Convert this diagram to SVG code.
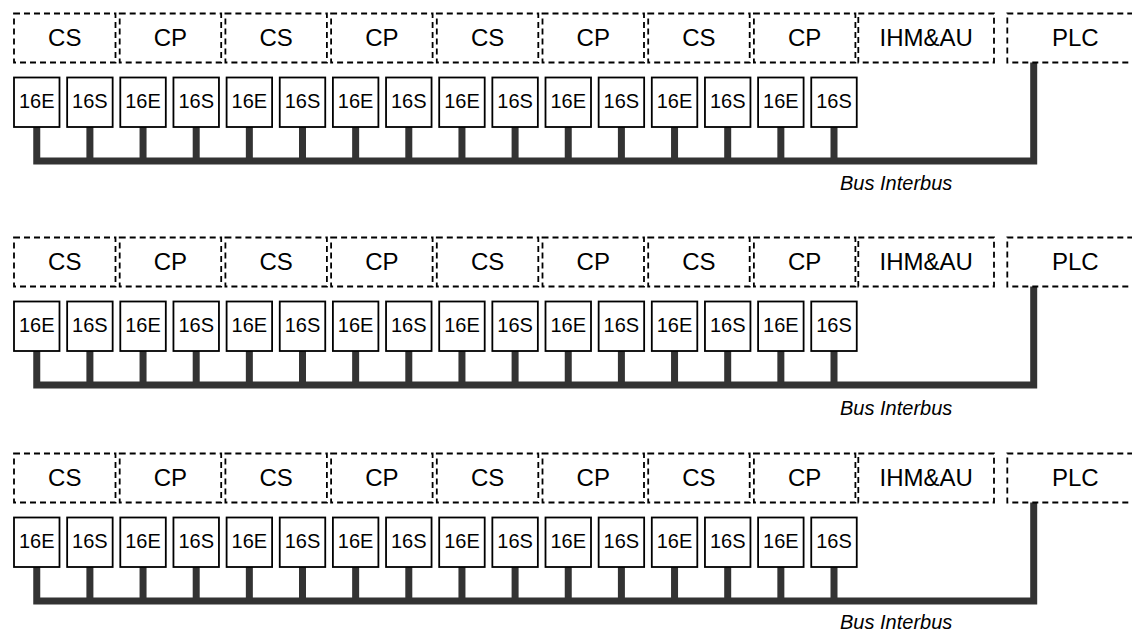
<svg xmlns="http://www.w3.org/2000/svg" width="1132" height="631" viewBox="0 0 1132 631">
<style>
.d{fill:none;stroke:#000;stroke-width:1.8;stroke-dasharray:6 4}
.b{fill:#fff;stroke:#000;stroke-width:1.8}
.t1{font-family:"Liberation Sans",Arial,sans-serif;font-size:24px;text-anchor:middle;fill:#000}
.t2{font-family:"Liberation Sans",Arial,sans-serif;font-size:20px;text-anchor:middle;fill:#000}
.lb{font-family:"Liberation Sans",Arial,sans-serif;font-size:20px;font-style:italic;fill:#000}
.bus{fill:none;stroke:#333;stroke-width:7;stroke-linejoin:miter;stroke-linecap:butt}
</style>
<rect width="1132" height="631" fill="#fff"/>

<!-- ROW 1 -->
<g id="row1">
<g id="r1-connectors">
<path class="bus" d="M36.75,127 V161 H1033.7 V62.5"/>
<path class="bus" d="M89.9,127V161M143.05,127V161M196.2,127V161M249.35,127V161M302.5,127V161M355.65,127V161M408.8,127V161M461.95,127V161M515.1,127V161M568.25,127V161M621.4,127V161M674.55,127V161M727.7,127V161M780.85,127V161M834,127V161"/>
</g>
<g id="r1-cs1"><rect class="d" x="14" y="13.5" width="101.5" height="49"/><text class="t1" x="64.75" y="46">CS</text></g>
<g id="r1-cp1"><rect class="d" x="119.7" y="13.5" width="101.5" height="49"/><text class="t1" x="170.45" y="46">CP</text></g>
<g id="r1-cs2"><rect class="d" x="225.4" y="13.5" width="101.5" height="49"/><text class="t1" x="276.15" y="46">CS</text></g>
<g id="r1-cp2"><rect class="d" x="331.1" y="13.5" width="101.5" height="49"/><text class="t1" x="381.85" y="46">CP</text></g>
<g id="r1-cs3"><rect class="d" x="436.8" y="13.5" width="101.5" height="49"/><text class="t1" x="487.55" y="46">CS</text></g>
<g id="r1-cp3"><rect class="d" x="542.5" y="13.5" width="101.5" height="49"/><text class="t1" x="593.25" y="46">CP</text></g>
<g id="r1-cs4"><rect class="d" x="648.2" y="13.5" width="101.5" height="49"/><text class="t1" x="698.95" y="46">CS</text></g>
<g id="r1-cp4"><rect class="d" x="753.9" y="13.5" width="101.5" height="49"/><text class="t1" x="804.65" y="46">CP</text></g>
<g id="r1-ihm"><rect class="d" x="858.3" y="13.5" width="135.7" height="49"/><text class="t1" x="926.15" y="46">IHM&amp;AU</text></g>
<g id="r1-plc"><rect class="d" x="1007.3" y="13.5" width="136" height="49"/><text class="t1" x="1075.3" y="46">PLC</text></g>
<g id="r1-m1"><rect class="b" x="14" y="77.5" width="45.5" height="49.5"/><text class="t2" x="36.75" y="107.5">16E</text></g>
<g id="r1-m2"><rect class="b" x="67.15" y="77.5" width="45.5" height="49.5"/><text class="t2" x="89.9" y="107.5">16S</text></g>
<g id="r1-m3"><rect class="b" x="120.3" y="77.5" width="45.5" height="49.5"/><text class="t2" x="143.05" y="107.5">16E</text></g>
<g id="r1-m4"><rect class="b" x="173.45" y="77.5" width="45.5" height="49.5"/><text class="t2" x="196.2" y="107.5">16S</text></g>
<g id="r1-m5"><rect class="b" x="226.6" y="77.5" width="45.5" height="49.5"/><text class="t2" x="249.35" y="107.5">16E</text></g>
<g id="r1-m6"><rect class="b" x="279.75" y="77.5" width="45.5" height="49.5"/><text class="t2" x="302.5" y="107.5">16S</text></g>
<g id="r1-m7"><rect class="b" x="332.9" y="77.5" width="45.5" height="49.5"/><text class="t2" x="355.65" y="107.5">16E</text></g>
<g id="r1-m8"><rect class="b" x="386.05" y="77.5" width="45.5" height="49.5"/><text class="t2" x="408.8" y="107.5">16S</text></g>
<g id="r1-m9"><rect class="b" x="439.2" y="77.5" width="45.5" height="49.5"/><text class="t2" x="461.95" y="107.5">16E</text></g>
<g id="r1-m10"><rect class="b" x="492.35" y="77.5" width="45.5" height="49.5"/><text class="t2" x="515.1" y="107.5">16S</text></g>
<g id="r1-m11"><rect class="b" x="545.5" y="77.5" width="45.5" height="49.5"/><text class="t2" x="568.25" y="107.5">16E</text></g>
<g id="r1-m12"><rect class="b" x="598.65" y="77.5" width="45.5" height="49.5"/><text class="t2" x="621.4" y="107.5">16S</text></g>
<g id="r1-m13"><rect class="b" x="651.8" y="77.5" width="45.5" height="49.5"/><text class="t2" x="674.55" y="107.5">16E</text></g>
<g id="r1-m14"><rect class="b" x="704.95" y="77.5" width="45.5" height="49.5"/><text class="t2" x="727.7" y="107.5">16S</text></g>
<g id="r1-m15"><rect class="b" x="758.1" y="77.5" width="45.5" height="49.5"/><text class="t2" x="780.85" y="107.5">16E</text></g>
<g id="r1-m16"><rect class="b" x="811.25" y="77.5" width="45.5" height="49.5"/><text class="t2" x="834" y="107.5">16S</text></g>
<g id="r1-label"><text class="lb" x="840" y="190">Bus Interbus</text></g>
</g>

<!-- ROW 2 -->
<g id="row2" transform="translate(0,224)">
<g id="r2-connectors">
<path class="bus" d="M36.75,127 V161 H1033.7 V62.5"/>
<path class="bus" d="M89.9,127V161M143.05,127V161M196.2,127V161M249.35,127V161M302.5,127V161M355.65,127V161M408.8,127V161M461.95,127V161M515.1,127V161M568.25,127V161M621.4,127V161M674.55,127V161M727.7,127V161M780.85,127V161M834,127V161"/>
</g>
<g id="r2-cs1"><rect class="d" x="14" y="13.5" width="101.5" height="49"/><text class="t1" x="64.75" y="46">CS</text></g>
<g id="r2-cp1"><rect class="d" x="119.7" y="13.5" width="101.5" height="49"/><text class="t1" x="170.45" y="46">CP</text></g>
<g id="r2-cs2"><rect class="d" x="225.4" y="13.5" width="101.5" height="49"/><text class="t1" x="276.15" y="46">CS</text></g>
<g id="r2-cp2"><rect class="d" x="331.1" y="13.5" width="101.5" height="49"/><text class="t1" x="381.85" y="46">CP</text></g>
<g id="r2-cs3"><rect class="d" x="436.8" y="13.5" width="101.5" height="49"/><text class="t1" x="487.55" y="46">CS</text></g>
<g id="r2-cp3"><rect class="d" x="542.5" y="13.5" width="101.5" height="49"/><text class="t1" x="593.25" y="46">CP</text></g>
<g id="r2-cs4"><rect class="d" x="648.2" y="13.5" width="101.5" height="49"/><text class="t1" x="698.95" y="46">CS</text></g>
<g id="r2-cp4"><rect class="d" x="753.9" y="13.5" width="101.5" height="49"/><text class="t1" x="804.65" y="46">CP</text></g>
<g id="r2-ihm"><rect class="d" x="858.3" y="13.5" width="135.7" height="49"/><text class="t1" x="926.15" y="46">IHM&amp;AU</text></g>
<g id="r2-plc"><rect class="d" x="1007.3" y="13.5" width="136" height="49"/><text class="t1" x="1075.3" y="46">PLC</text></g>
<g id="r2-m1"><rect class="b" x="14" y="77.5" width="45.5" height="49.5"/><text class="t2" x="36.75" y="107.5">16E</text></g>
<g id="r2-m2"><rect class="b" x="67.15" y="77.5" width="45.5" height="49.5"/><text class="t2" x="89.9" y="107.5">16S</text></g>
<g id="r2-m3"><rect class="b" x="120.3" y="77.5" width="45.5" height="49.5"/><text class="t2" x="143.05" y="107.5">16E</text></g>
<g id="r2-m4"><rect class="b" x="173.45" y="77.5" width="45.5" height="49.5"/><text class="t2" x="196.2" y="107.5">16S</text></g>
<g id="r2-m5"><rect class="b" x="226.6" y="77.5" width="45.5" height="49.5"/><text class="t2" x="249.35" y="107.5">16E</text></g>
<g id="r2-m6"><rect class="b" x="279.75" y="77.5" width="45.5" height="49.5"/><text class="t2" x="302.5" y="107.5">16S</text></g>
<g id="r2-m7"><rect class="b" x="332.9" y="77.5" width="45.5" height="49.5"/><text class="t2" x="355.65" y="107.5">16E</text></g>
<g id="r2-m8"><rect class="b" x="386.05" y="77.5" width="45.5" height="49.5"/><text class="t2" x="408.8" y="107.5">16S</text></g>
<g id="r2-m9"><rect class="b" x="439.2" y="77.5" width="45.5" height="49.5"/><text class="t2" x="461.95" y="107.5">16E</text></g>
<g id="r2-m10"><rect class="b" x="492.35" y="77.5" width="45.5" height="49.5"/><text class="t2" x="515.1" y="107.5">16S</text></g>
<g id="r2-m11"><rect class="b" x="545.5" y="77.5" width="45.5" height="49.5"/><text class="t2" x="568.25" y="107.5">16E</text></g>
<g id="r2-m12"><rect class="b" x="598.65" y="77.5" width="45.5" height="49.5"/><text class="t2" x="621.4" y="107.5">16S</text></g>
<g id="r2-m13"><rect class="b" x="651.8" y="77.5" width="45.5" height="49.5"/><text class="t2" x="674.55" y="107.5">16E</text></g>
<g id="r2-m14"><rect class="b" x="704.95" y="77.5" width="45.5" height="49.5"/><text class="t2" x="727.7" y="107.5">16S</text></g>
<g id="r2-m15"><rect class="b" x="758.1" y="77.5" width="45.5" height="49.5"/><text class="t2" x="780.85" y="107.5">16E</text></g>
<g id="r2-m16"><rect class="b" x="811.25" y="77.5" width="45.5" height="49.5"/><text class="t2" x="834" y="107.5">16S</text></g>
<g id="r2-label"><text class="lb" x="840" y="191">Bus Interbus</text></g>
</g>

<!-- ROW 3 -->
<g id="row3" transform="translate(0,440)">
<g id="r3-connectors">
<path class="bus" d="M36.75,127 V161 H1033.7 V62.5"/>
<path class="bus" d="M89.9,127V161M143.05,127V161M196.2,127V161M249.35,127V161M302.5,127V161M355.65,127V161M408.8,127V161M461.95,127V161M515.1,127V161M568.25,127V161M621.4,127V161M674.55,127V161M727.7,127V161M780.85,127V161M834,127V161"/>
</g>
<g id="r3-cs1"><rect class="d" x="14" y="13.5" width="101.5" height="49"/><text class="t1" x="64.75" y="46">CS</text></g>
<g id="r3-cp1"><rect class="d" x="119.7" y="13.5" width="101.5" height="49"/><text class="t1" x="170.45" y="46">CP</text></g>
<g id="r3-cs2"><rect class="d" x="225.4" y="13.5" width="101.5" height="49"/><text class="t1" x="276.15" y="46">CS</text></g>
<g id="r3-cp2"><rect class="d" x="331.1" y="13.5" width="101.5" height="49"/><text class="t1" x="381.85" y="46">CP</text></g>
<g id="r3-cs3"><rect class="d" x="436.8" y="13.5" width="101.5" height="49"/><text class="t1" x="487.55" y="46">CS</text></g>
<g id="r3-cp3"><rect class="d" x="542.5" y="13.5" width="101.5" height="49"/><text class="t1" x="593.25" y="46">CP</text></g>
<g id="r3-cs4"><rect class="d" x="648.2" y="13.5" width="101.5" height="49"/><text class="t1" x="698.95" y="46">CS</text></g>
<g id="r3-cp4"><rect class="d" x="753.9" y="13.5" width="101.5" height="49"/><text class="t1" x="804.65" y="46">CP</text></g>
<g id="r3-ihm"><rect class="d" x="858.3" y="13.5" width="135.7" height="49"/><text class="t1" x="926.15" y="46">IHM&amp;AU</text></g>
<g id="r3-plc"><rect class="d" x="1007.3" y="13.5" width="136" height="49"/><text class="t1" x="1075.3" y="46">PLC</text></g>
<g id="r3-m1"><rect class="b" x="14" y="77.5" width="45.5" height="49.5"/><text class="t2" x="36.75" y="107.5">16E</text></g>
<g id="r3-m2"><rect class="b" x="67.15" y="77.5" width="45.5" height="49.5"/><text class="t2" x="89.9" y="107.5">16S</text></g>
<g id="r3-m3"><rect class="b" x="120.3" y="77.5" width="45.5" height="49.5"/><text class="t2" x="143.05" y="107.5">16E</text></g>
<g id="r3-m4"><rect class="b" x="173.45" y="77.5" width="45.5" height="49.5"/><text class="t2" x="196.2" y="107.5">16S</text></g>
<g id="r3-m5"><rect class="b" x="226.6" y="77.5" width="45.5" height="49.5"/><text class="t2" x="249.35" y="107.5">16E</text></g>
<g id="r3-m6"><rect class="b" x="279.75" y="77.5" width="45.5" height="49.5"/><text class="t2" x="302.5" y="107.5">16S</text></g>
<g id="r3-m7"><rect class="b" x="332.9" y="77.5" width="45.5" height="49.5"/><text class="t2" x="355.65" y="107.5">16E</text></g>
<g id="r3-m8"><rect class="b" x="386.05" y="77.5" width="45.5" height="49.5"/><text class="t2" x="408.8" y="107.5">16S</text></g>
<g id="r3-m9"><rect class="b" x="439.2" y="77.5" width="45.5" height="49.5"/><text class="t2" x="461.95" y="107.5">16E</text></g>
<g id="r3-m10"><rect class="b" x="492.35" y="77.5" width="45.5" height="49.5"/><text class="t2" x="515.1" y="107.5">16S</text></g>
<g id="r3-m11"><rect class="b" x="545.5" y="77.5" width="45.5" height="49.5"/><text class="t2" x="568.25" y="107.5">16E</text></g>
<g id="r3-m12"><rect class="b" x="598.65" y="77.5" width="45.5" height="49.5"/><text class="t2" x="621.4" y="107.5">16S</text></g>
<g id="r3-m13"><rect class="b" x="651.8" y="77.5" width="45.5" height="49.5"/><text class="t2" x="674.55" y="107.5">16E</text></g>
<g id="r3-m14"><rect class="b" x="704.95" y="77.5" width="45.5" height="49.5"/><text class="t2" x="727.7" y="107.5">16S</text></g>
<g id="r3-m15"><rect class="b" x="758.1" y="77.5" width="45.5" height="49.5"/><text class="t2" x="780.85" y="107.5">16E</text></g>
<g id="r3-m16"><rect class="b" x="811.25" y="77.5" width="45.5" height="49.5"/><text class="t2" x="834" y="107.5">16S</text></g>
<g id="r3-label"><text class="lb" x="840" y="188.5">Bus Interbus</text></g>
</g>
</svg>
